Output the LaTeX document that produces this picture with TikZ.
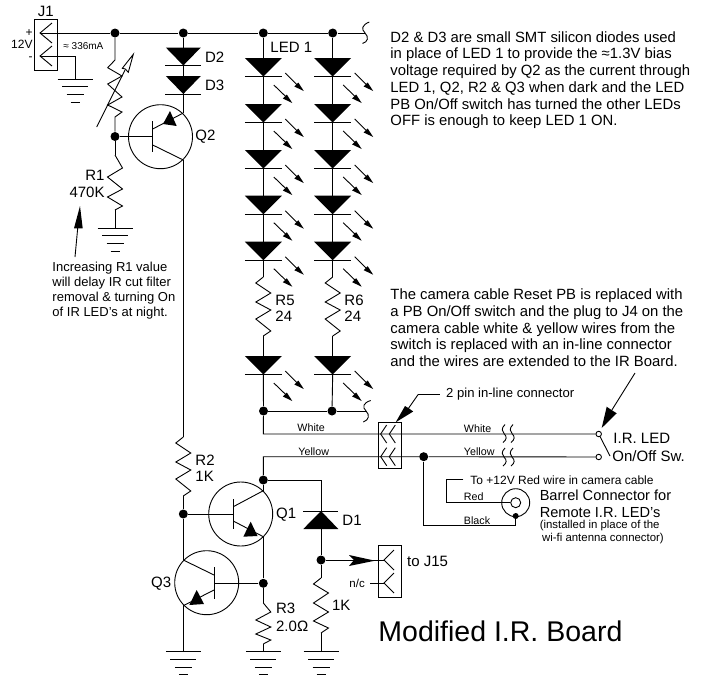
\documentclass[tikz,border=0pt]{standalone}
\usepackage{fontspec}
\setmainfont{Liberation Sans}
\newcommand\gnd[1]{\begin{scope}[shift={(#1)}]
 \draw (-17.5,0)--(17.5,0) (-13,7.5)--(13,7.5) (-8.5,15.5)--(8.5,15.5) (-4.5,23)--(4.5,23);\end{scope}}
\newcommand\zigA[1]{\draw[shift={(#1)}] (0,0)--(-7.5,6)--(7.5,16)--(-7.5,25)--(7.5,33)--(-7.5,42)--(7.5,54)--(0,59);}
\newcommand\zigB[1]{\draw[shift={(#1)}] (0,0)--(7.5,13)--(-7.5,22)--(7.5,34)--(-7.5,42)--(7.5,51)--(0,55);}
\newcommand\zigC[1]{\draw[shift={(#1)}] (0,0)--(7.5,9)--(-7.5,17)--(7.5,24)--(-7.5,31)--(7.5,37)--(0,41);}
\newcommand\zigD[1]{\draw[shift={(#1)}] (0,0)--(-7.5,6)--(7.5,15)--(-7.5,25)--(7.5,34)--(-7.5,43)--(7.5,50)--(0,55);}
\newcommand\diode[1]{\begin{scope}[shift={(#1)}]\fill (-17.5,0)--(17.5,0)--(0,18)--cycle; \draw (-18,18)--(18,18);\end{scope}}
\newcommand\led[1]{\begin{scope}[shift={(#1)}]\fill (-18.5,0)--(18.5,0)--(0,18.5)--cycle; \draw (-18.5,18.5)--(18.5,18.5);
 \draw (22,15)--(36,29); \fill (40.5,33)--(31,28.5)--(35,24.5)--cycle;
 \draw (10.5,27)--(25,41); \fill (29,45)--(19.5,40.5)--(23.5,36.5)--cycle;\end{scope}}
\newcommand\chev[4]{\draw[shift={(#1)}] (#2,-#3)--(0,0)--(#2,#3);}
\newcommand\lbl[4][15]{\node[anchor=west,inner sep=0pt,font=\fontsize{#1}{#1}\selectfont] at (#2,#3) {#4};}
\tikzset{jdot/.style={circle,fill=black,inner sep=0pt,minimum size=9pt},
 odot/.style={circle,draw=black,fill=white,inner sep=0pt,minimum size=5.5pt},
 para/.style={anchor=north west,inner sep=0pt,align=left,font=\fontsize{14.85}{16.75}\selectfont},
 every path/.style={line width=.9pt}}
\begin{document}
\begin{tikzpicture}[x=1pt,y=-1pt,line join=miter]
\useasboundingbox (0,0) rectangle (705,675);
% junctions
\node[jdot] (ja) at (115,33) {};
\node[jdot] (jb) at (183.3,33) {};
\node[jdot] (jc) at (263.3,33) {};
\node[jdot] (jd) at (332.7,33) {};
\node[jdot] (je) at (115,136.5) {};
\node[jdot] (jf) at (263.5,411) {};
\node[jdot] (jg) at (332,411) {};
\node[jdot] (jh) at (423.7,456.7) {};
\node[jdot] (ji) at (263.3,480) {};
\node[jdot] (jj) at (183.3,514) {};
\node[jdot] (jk) at (263.3,583.3) {};
\node[jdot] (jl) at (321,560) {};
\node[jdot,minimum size=6pt] (jm) at (515.7,516) {};
\node[odot] (swa) at (598.7,434) {};
\node[odot] (swb) at (598.7,457) {};
\coordinate (jtip1) at (40,33);
\coordinate (jtip2) at (40,56);
\coordinate (gj) at (75,79);
\coordinate (topend) at (365,33);
\coordinate (botend) at (367,411);
% J1
\draw (34.5,19) rectangle (57.5,70);
\chev{jtip1}{12}{10}{} \chev{jtip2}{12}{10}{}
\draw (jtip1)--(ja)--(jb)--(jc)--(jd)--(topend);
\draw (jtip2)-|(gj);
\gnd{gj}
\draw (369.3,22) .. controls (362,25) and (361,29) .. (365,33) .. controls (369,37) and (368,42) .. (362.5,43.5);
% variable R
\coordinate (vt) at (115,60); \coordinate (vb) at (115,117);
\draw (ja)--(vt)--(107.7,67.7)--(122,76)--(107.7,84)--(122,97)--(107.7,105)--(122,112)--(vb)--(je);
\draw (96.7,127)--(125,70);
\draw[fill=white] (133.3,54.3)--(122.3,68.3)--(125.3,69)--(128.3,72.3)--cycle;
% R1
\coordinate (r1t) at (115,155); \coordinate (r1b) at (115,210); \coordinate (g1) at (115,228);
\draw (je)--(r1t) (r1b)--(g1);
\zigB{r1t}
\gnd{g1}
\draw (75,257)--(78,225);
\fill (80,206)--(74,228.3)--(82.7,228.3)--cycle;
% Q2
\node[circle,draw,inner sep=0pt,minimum size=64pt] (q2) at (160.5,136.7) {};
\coordinate (q2b) at (152.7,136.5);
\coordinate (q2e) at (183.3,113);
\coordinate (q2c) at (183.3,160);
\draw (je)--(q2b) (152.7,121)--(152.7,152);
\draw (152.7,129)--(q2e) (152.7,145)--(q2c);
\fill (170,111)--(176.7,126)--(163,124)--cycle;
% D2 D3
\coordinate (d2) at (183.3,47.5); \coordinate (d3) at (183.3,76);
\diode{d2} \diode{d3}
\draw (jb)--(d2) (183.3,65)--(d3) (183.3,93)--(q2e);
% main wire to R2
\coordinate (r2t) at (183.3,437); \coordinate (r2b) at (183.3,496);
\draw (q2c)--(r2t) (r2b)--(jj);
\zigA{r2t}
% LED columns
\foreach \x/\c/\n in {263.3/jc/a,332.7/jd/b}{
 \coordinate (t\n) at (\x,58);
 \coordinate (u\n) at (\x,277); \coordinate (v\n) at (\x,336);
 \coordinate (w\n) at (\x,356);
 \led{\x,58} \led{\x,104} \led{\x,150} \led{\x,195.7} \led{\x,241.7} \led{\x,356}
 \zigA{u\n}
 \draw (\c)--(t\n) (\x,76)--(\x,104) (\x,122)--(\x,150) (\x,168)--(\x,195.7) (\x,214)--(\x,241.7) (\x,260)--(u\n) (v\n)--(w\n);
}
\draw (263.3,374)--(jf) (332.7,374)--(jg);
\draw (jf)--(jg)--(botend);
\draw (370.7,400.5) .. controls (363,403) and (362,407) .. (366,411) .. controls (370,415) and (369,420) .. (363.3,422);
% in-line connector
\coordinate (cw) at (263.3,434); \coordinate (cy) at (263.3,456.7);
\coordinate (ct1) at (380.7,434); \coordinate (ct2) at (389.3,434);
\coordinate (ct3) at (380.7,456.7); \coordinate (ct4) at (389.3,456.7);
\draw (378.3,422.3) rectangle (401.3,468.3);
\chev{ct1}{6}{9}{} \chev{ct2}{6}{9}{} \chev{ct3}{6}{9}{} \chev{ct4}{6}{9}{}
\draw (jf)--(cw)--(swa);
\draw (ji)--(cy)--(jh)--(swb);
\draw (418.3,394.3)--(440,394.3);
\draw (418.3,394.3)--(408,409);
\fill (395.7,422.3)--(405,406)--(408.8,408.3)--(413.2,411.5)--cycle;
\lbl[13.1]{445.7}{394}{2 pin in-line connector}
% wire breaks
\foreach \y in {433.5,457}{
 \draw (505,\y-9) .. controls (501,\y-5) and (502,\y-2) .. (504,\y) .. controls (507,\y+3) and (507,\y+6) .. (503,\y+9);
 \draw (513,\y-9) .. controls (509,\y-5) and (510,\y-2) .. (512,\y) .. controls (515,\y+3) and (515,\y+6) .. (511,\y+9);
}
% switch
\draw (600,436.5)--(610,456);
\draw (635,373)--(610,413);
\fill (601.7,428)--(606.7,406.7)--(611.5,410)--(616.7,413.3)--cycle;
% barrel
\node[circle,draw,inner sep=0pt,minimum size=28pt] (barrel) at (515.7,502.7) {};
\node[circle,draw,inner sep=0pt,minimum size=10pt] (bin) at (515.7,502.7) {};
\coordinate (ra) at (463.3,479.3); \coordinate (rb) at (446.7,479.3); \coordinate (rc) at (446.7,502.7);
\coordinate (ba) at (423.7,525.7); \coordinate (bb) at (515.7,525.7);
\draw (ra)--(rb)--(rc)--(bin);
\draw (jh)--(ba)--(bb)--(jm);
% Q1
\node[circle,draw,inner sep=0pt,minimum size=64pt] (q1) at (240.7,514) {};
\coordinate (q1b) at (233.3,514);
\coordinate (q1c) at (263.3,490.7);
\coordinate (q1e) at (263.3,536.7);
\draw (jj)--(q1b) (233.3,499)--(233.3,529);
\draw (233.3,506.7)--(q1c) (233.3,521)--(q1e);
\fill (250.7,521.7)--(257.5,536)--(243.3,536.7)--cycle;
\draw (ji)--(q1c) (q1e)--(jk);
% Q3
\node[circle,draw,inner sep=0pt,minimum size=64pt] (q3) at (206.7,582.7) {};
\coordinate (q3b) at (214,583.3);
\coordinate (q3c) at (183.3,560);
\coordinate (q3e) at (183.3,605.7);
\coordinate (g3) at (183.3,651.7);
\draw (jk)--(q3b) (214,567)--(214,599);
\draw (214,575)--(q3c) (214,590)--(q3e);
\fill (196.7,590)--(204,604)--(189.3,605)--cycle;
\draw (jj)--(q3c) (q3e)--(g3);
\gnd{g3}
% R3
\coordinate (r3t) at (263.3,603); \coordinate (r3b) at (263.3,644); \coordinate (g4) at (263.3,651.7);
\draw (jk)--(r3t) (r3b)--(g4);
\zigC{r3t}
\gnd{g4}
% D1
\coordinate (d1b) at (321,511); \coordinate (d1c) at (321,529);
\coordinate (r4t) at (321,578); \coordinate (r4b) at (321,633); \coordinate (g5) at (321,651.7);
\draw (ji)-|(d1b) (d1c)--(jl)--(r4t) (r4b)--(g5);
\draw (303.3,511)--(338.3,511);
\fill (321,511)--(338.3,529)--(303.3,529)--cycle;
\zigD{r4t}
\gnd{g5}
% J15
\coordinate (jt1) at (384,560); \coordinate (jt2) at (384,583); \coordinate (nc) at (370,583);
\draw (378.3,545.7) rectangle (401.3,597);
\chev{jt1}{10}{10}{} \chev{jt2}{10}{10}{}
\draw (jl)--(jt1) (nc)--(jt2);
\fill (349,555)--(375,560.7)--(349,566)--(354,560)--cycle;
% labels
\lbl{37.5}{11}{J1}
\node[anchor=east,inner sep=0pt,align=right,font=\fontsize{12}{11.8}\selectfont] at (33,45) {+\\12V\\-};
\lbl[10]{63}{46}{≈ 336mA}
\lbl{204.7}{57}{D2}
\lbl{204.7}{85}{D3}
\lbl{195}{137}{Q2}
\node[anchor=east,inner sep=0pt,font=\fontsize{15}{15}\selectfont] at (105,175) {R1};
\node[anchor=east,inner sep=0pt,font=\fontsize{15}{15}\selectfont] at (105,192) {470K};
\node[anchor=north west,inner sep=0pt,align=left,font=\fontsize{13}{15}\selectfont] at (52,262) {Increasing R1 value\\will delay IR cut filter\\removal \& turning On\\of IR LED's at night.};
\lbl{270}{47.7}{LED 1}
\lbl{275}{300}{R5}
\lbl{275}{316}{24}
\lbl{344}{300}{R6}
\lbl{344}{316}{24}
\node[para] at (390,31) {D2 \& D3 are small SMT silicon diodes used\\in place of LED 1 to provide the ≈1.3V bias\\voltage required by Q2 as the current through\\LED 1, Q2, R2 \& Q3 when dark and the LED\\PB On/Off switch has turned the other LEDs\\OFF is enough to keep LED 1 ON.};
\node[para] at (390,288.5) {The camera cable Reset PB is replaced with\\a PB On/Off switch and the plug to J4 on the\\camera cable white \& yellow wires from the\\switch is replaced with an in-line connector\\and the wires are extended to the IR Board.};
\lbl[10.7]{297}{428}{White}
\lbl[10.7]{298}{451.5}{Yellow}
\lbl[10.7]{463.5}{428.5}{White}
\lbl[10.7]{463.5}{451.5}{Yellow}
\lbl{613}{438}{I.R. LED}
\lbl{612}{456}{On/Off Sw.}
\lbl[12]{470}{480.7}{To +12V Red wire in camera cable}
\lbl[10.7]{463.5}{497}{Red}
\lbl[10.7]{463.5}{520.7}{Black}
\lbl[14.6]{539.3}{495}{Barrel Connector for}
\lbl[14.6]{539.3}{512.3}{Remote I.R. LED's}
\lbl[11.4]{539.3}{525.3}{(installed in place of the}
\lbl[11.4]{541.7}{538.3}{wi-fi antenna connector)}
\lbl{275.7}{515}{Q1}
\lbl{342}{520.7}{D1}
\node[anchor=east,inner sep=0pt,font=\fontsize{15}{15}\selectfont] at (171.7,584) {Q3};
\lbl{195}{460}{R2}
\lbl{195}{476.7}{1K}
\lbl{275.7}{608}{R3}
\lbl{275.7}{626.7}{2.0Ω}
\lbl{331.7}{605.7}{1K}
\lbl{406.7}{561}{to J15}
\lbl[11.5]{349}{583}{n/c}
\lbl[28.5]{378}{631}{Modified I.R. Board}
\end{tikzpicture}
\end{document}
